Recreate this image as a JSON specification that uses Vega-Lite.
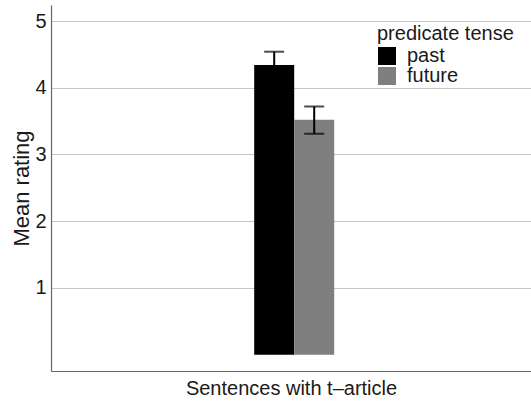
{
  "$schema": "https://vega.github.io/schema/vega-lite/v6.json",
  "width": 480,
  "height": 366,
  "autosize": {"type": "none"},
  "padding": {"left": 51, "top": 5, "right": 0, "bottom": 30},
  "background": "white",
  "config": {
    "font": "Liberation Sans",
    "view": {"stroke": null},
    "axis": {"labelColor": "#1a1a1a", "titleColor": "#1a1a1a", "titleFontWeight": "normal"}
  },
  "data": {
    "values": [
      {"group": "Sentences with t–article", "tense": "past", "mean": 4.34, "lo": 4.14, "hi": 4.54},
      {"group": "Sentences with t–article", "tense": "future", "mean": 3.52, "lo": 3.31, "hi": 3.72}
    ]
  },
  "encoding": {
    "x": {
      "field": "group",
      "type": "nominal",
      "scale": {"paddingInner": 0, "paddingOuter": 1, "align": 0.51},
      "axis": {
        "title": "Sentences with t–article",
        "labels": false,
        "ticks": false,
        "domainColor": "#666666",
        "domainWidth": 1.2,
        "titleFontSize": 20,
        "titlePadding": 7
      }
    },
    "xOffset": {
      "field": "tense",
      "type": "nominal",
      "sort": ["past", "future"],
      "scale": {"domain": ["past", "future"], "paddingInner": 0, "paddingOuter": 1}
    }
  },
  "layer": [
    {
      "mark": {"type": "bar"},
      "encoding": {
        "y": {
          "field": "mean",
          "type": "quantitative",
          "scale": {"domain": [-0.245, 5.24], "nice": false, "zero": false},
          "axis": {
            "title": "Mean rating",
            "values": [1, 2, 3, 4, 5],
            "format": "d",
            "ticks": false,
            "grid": true,
            "gridColor": "#c4c4c4",
            "gridWidth": 1,
            "domainColor": "#666666",
            "domainWidth": 1.2,
            "labelFontSize": 20,
            "labelPadding": 5,
            "titleFontSize": 22,
            "titlePadding": 1
          }
        },
        "y2": {"datum": 0},
        "color": {
          "field": "tense",
          "type": "nominal",
          "sort": ["past", "future"],
          "scale": {"domain": ["past", "future"], "range": ["#000000", "#7f7f7f"]},
          "legend": {
            "title": "predicate tense",
            "orient": "none",
            "legendX": 326,
            "legendY": 19,
            "titleFontSize": 20,
            "titleFontWeight": "normal",
            "titleColor": "#1a1a1a",
            "labelColor": "#1a1a1a",
            "labelFontSize": 20,
            "labelLimit": 200,
            "titleLimit": 300,
            "symbolType": "square",
            "symbolSize": 324,
            "symbolStrokeWidth": 0,
            "rowPadding": -1,
            "labelOffset": 10,
            "titlePadding": 2
          }
        }
      }
    },
    {
      "mark": {"type": "rule", "color": "black", "strokeWidth": 2},
      "encoding": {
        "y": {"field": "lo", "type": "quantitative"},
        "y2": {"field": "hi"}
      }
    },
    {
      "mark": {"type": "tick", "color": "black", "thickness": 2, "size": 20},
      "encoding": {"y": {"field": "hi", "type": "quantitative"}}
    },
    {
      "mark": {"type": "tick", "color": "black", "thickness": 2, "size": 20},
      "encoding": {"y": {"field": "lo", "type": "quantitative"}}
    }
  ]
}
